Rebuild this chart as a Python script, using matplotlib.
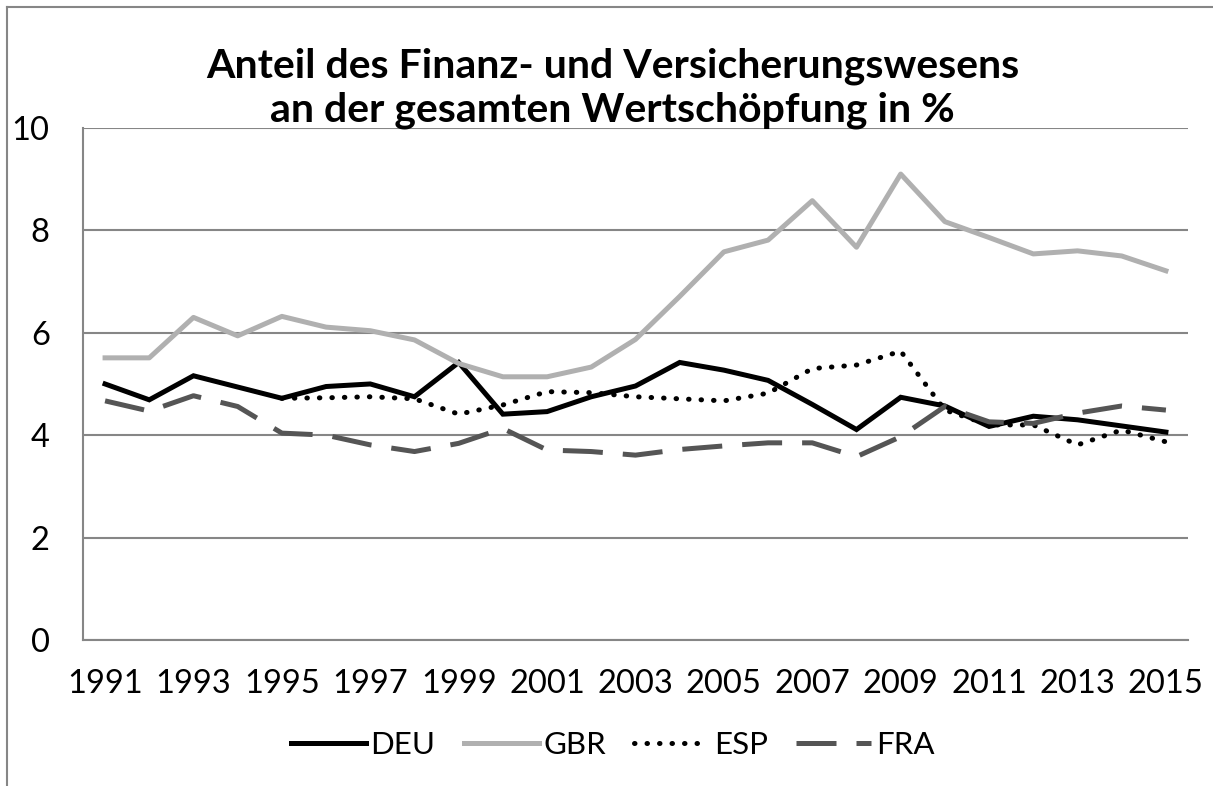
import numpy as np
import matplotlib.pyplot as plt
from matplotlib.lines import Line2D

plt.rcParams['font.family'] = ['Lato', 'DejaVu Sans']

# Jahre und Werte (Anteil in %)
jahre = list(range(1991, 2016))
deu = [5.00, 4.69, 5.16, 4.94, 4.72, 4.95, 5.00, 4.75, 5.42, 4.41, 4.46, 4.75, 4.96,
       5.42, 5.27, 5.07, 4.60, 4.11, 4.74, 4.57, 4.17, 4.37, 4.30, 4.18, 4.06]
gbr = [5.51, 5.51, 6.30, 5.94, 6.32, 6.11, 6.04, 5.86, 5.40, 5.14, 5.14, 5.33, 5.87,
       6.71, 7.58, 7.81, 8.58, 7.67, 9.10, 8.17, 7.86, 7.54, 7.60, 7.50, 7.21]
esp = [np.nan, np.nan, np.nan, np.nan, 4.72, 4.73, 4.75, 4.71, 4.41, 4.59, 4.85, 4.83, 4.75,
       4.71, 4.67, 4.82, 5.30, 5.37, 5.64, 4.49, 4.20, 4.20, 3.81, 4.10, 3.87]
fra = [4.67, 4.47, 4.77, 4.56, 4.04, 4.00, 3.81, 3.68, 3.84, 4.13, 3.71, 3.68, 3.61,
       3.72, 3.79, 3.85, 3.85, 3.58, 3.97, 4.56, 4.26, 4.23, 4.43, 4.57, 4.49]

fig = plt.figure(figsize=(12.13, 7.86), dpi=100)
ax = fig.add_axes([0.0684, 0.1858, 0.9110, 0.6514])

x = np.arange(len(jahre))
lw = 3.6
ax.plot(x, deu, color='black', lw=lw, label='DEU', solid_joinstyle='miter')
ax.plot(x, gbr, color='#b0b0b0', lw=lw, label='GBR')
ax.plot(x, esp, color='black', lw=lw, linestyle=(0, (0.1, 2.4)),
        dash_capstyle='round', label='ESP')
ax.plot(x, fra, color='#555555', lw=lw, linestyle=(0, (8, 4)), label='FRA')

ax.set_xlim(-0.5, len(jahre) - 0.5)
ax.set_ylim(0, 10)
ax.set_yticks([0, 2, 4, 6, 8, 10])
ax.set_xticks(x[::2])
ax.set_xticklabels([str(j) for j in jahre[::2]])
ax.tick_params(axis='both', length=0, labelsize=23.5)
ax.tick_params(axis='y', pad=24)
ax.tick_params(axis='x', pad=21)

ax.grid(axis='y', color='#868686', lw=1.5)
ax.set_axisbelow(True)
for s in ['top', 'right']:
    ax.spines[s].set_visible(False)
for s in ['left', 'bottom']:
    ax.spines[s].set_color('#868686')
    ax.spines[s].set_linewidth(1.5)

# Titel in zwei Zeilen
fig.text(0.505, 0.902, 'Anteil des Finanz- und Versicherungswesens',
         ha='center', va='baseline', fontsize=29.5, fontweight='bold')
fig.text(0.505, 0.845, 'an der gesamten Wertschöpfung in %',
         ha='center', va='baseline', fontsize=29.5, fontweight='bold')

fig.legend(loc='center', bbox_to_anchor=(0.505, 0.052), ncol=4, frameon=False,
           fontsize=22.5, handlelength=2.4, handletextpad=0.15, columnspacing=0.9)

# Rahmen des Diagramms (rechts und unten abgeschnitten)
fig.add_artist(Line2D([0.006, 0.006], [0.0, 0.991], transform=fig.transFigure,
                      color='#868686', lw=1.5))
fig.add_artist(Line2D([0.006, 1.0], [0.991, 0.991], transform=fig.transFigure,
                      color='#868686', lw=1.5))

fig.savefig('out.png', dpi=100)
